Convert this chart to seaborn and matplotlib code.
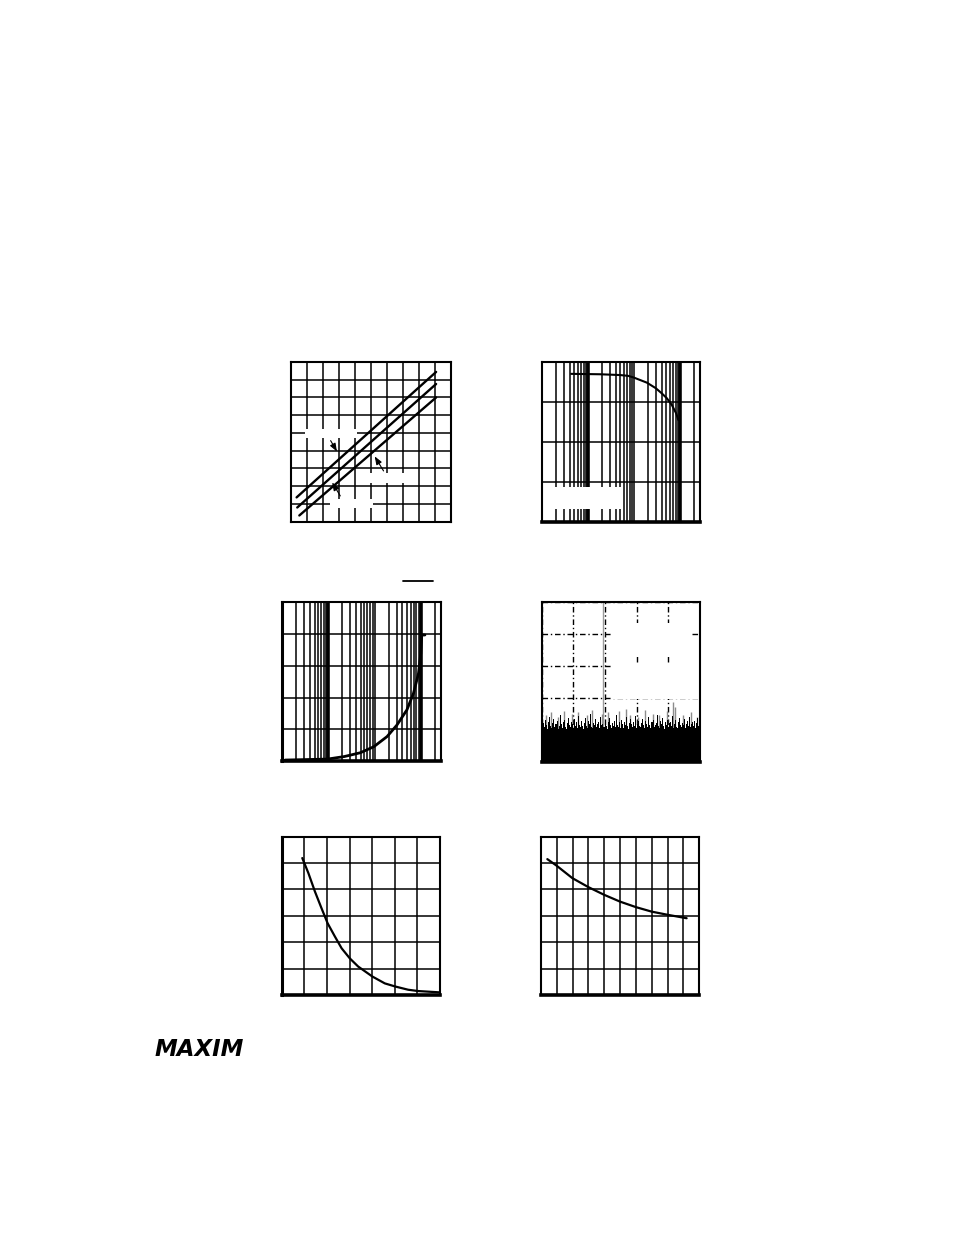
import numpy as np
import pandas as pd
import matplotlib
matplotlib.use("Agg")
import matplotlib.pyplot as plt
import seaborn as sns
from matplotlib.ticker import MultipleLocator, FixedLocator, NullFormatter
from matplotlib.patches import Rectangle
from matplotlib.lines import Line2D

# ---------------- data ----------------
# Plot 1: three parallel straight characteristics (grid units)
p1_x_a = [0.35, 9.07]
p1_y_a = [1.36, 8.44]
p1_x_b = [0.39, 9.07]
p1_y_b = [0.79, 7.76]
p1_x_c = [0.52, 9.07]
p1_y_c = [0.34, 7.00]

# Plot 2: response vs log frequency
p2_x = [4.3, 18, 50, 74, 97, 189, 296, 400, 513, 660, 818, 917]
p2_y = [3.71, 3.70, 3.68, 3.66, 3.62, 3.49, 3.35, 3.22, 3.10, 2.93, 2.72, 2.55]

# Plot 3: rising curve vs log x
p3_x = [1.15, 9.5, 22, 49, 96, 186, 303, 500, 694, 892, 1000, 1050, 1230]
p3_y = [0.03, 0.06, 0.14, 0.26, 0.45, 0.77, 1.13, 1.61, 2.13, 2.76, 3.39, 3.97, 3.97]

# log grid: decades and sub-multiples
log_decades = [1, 10, 100, 1000]
log_subs = [1, 2, 3, 4, 5, 6, 7, 8, 9]
log_thick = [10, 1000]

# Plot 4: noise spectrum (grid units)
noise_h = [1.12,1.05,1.20,1.08,1.31,1.15,1.02,1.25,1.40,1.11,1.07,1.22,1.35,1.09,1.18,1.28,1.04,1.13,1.45,1.17,
           1.06,1.24,1.32,1.10,1.03,1.21,1.38,1.14,1.08,1.26,1.19,1.05,1.34,1.12,1.23,1.07,1.42,1.16,1.09,1.29,
           1.11,1.04,1.20,1.36,1.13,1.06,1.27,1.18,1.50,1.10,1.05,1.22,1.15,1.33,1.08,1.19,1.25,1.07,1.41,1.14,
           1.17,1.09,1.30,1.12,1.03,1.24,1.37,1.16,1.06,1.21,1.13,1.28,1.08,1.46,1.15,1.10,1.23,1.05,1.32,1.18,
           1.07,1.26,1.14,1.39,1.11,1.04,1.20,1.35,1.17,1.09,1.25,1.12,1.43,1.06,1.19,1.29,1.13,1.08,1.22,1.34,
           1.15,1.05,1.27,1.18,1.10,1.40,1.14,1.07,1.24,1.31,1.09,1.16,1.21,1.48,1.12,1.06,1.28,1.17,1.36,1.11,
           1.04,1.23,1.15,1.32,1.08,1.20,1.26,1.13,1.44,1.07,1.18,1.30,1.10,1.05,1.25,1.37,1.16,1.09,1.22,1.14,
           1.33,1.06,1.19,1.27,1.12,1.41,1.08,1.17,1.24,1.11,1.29,1.05,1.20,1.36,1.13,1.08]
noise_floor = 0.95
gray_x = [0.15, 0.3, 0.52, 0.7, 0.95, 1.15, 1.42, 1.6, 1.9, 2.1, 2.45, 2.65, 2.8, 3.05, 3.25, 3.5,
          3.72, 3.95, 4.15, 4.2, 4.45, 4.7, 4.9]
gray_h = [1.45, 1.55, 1.40, 1.60, 1.50, 1.55, 1.45, 1.62, 1.50, 1.55, 1.58, 1.65, 1.45, 1.40, 1.62, 1.50,
          1.45, 1.58, 1.88, 1.72, 1.48, 1.55, 1.40]
tone_x = 1.95

# Plot 5: decaying curve
p5_x = [0.91, 1.18, 1.47, 1.76, 2.03, 2.35, 2.65, 3.01, 3.38, 4.01, 4.56, 5.03, 5.59, 6.03, 6.99]
p5_y = [5.19, 4.62, 3.92, 3.29, 2.72, 2.22, 1.77, 1.39, 1.08, 0.70, 0.44, 0.32, 0.20, 0.15, 0.10]

# Plot 6: gently decaying curve
p6_x = [0.40, 0.99, 1.98, 2.99, 3.98, 4.99, 6.00, 6.99, 8.00, 9.20]
p6_y = [5.15, 4.90, 4.43, 4.09, 3.80, 3.54, 3.33, 3.16, 3.04, 2.91]

# ---------------- figure ----------------
sns.set_theme(style="white")
plt.rcParams['font.family'] = ['DejaVu Sans']
W, H = 954, 1235
fig = plt.figure(figsize=(W / 100, H / 100), dpi=100)
fig.patch.set_facecolor('white')


def make_ax(l, r, t, b):
    ax = fig.add_axes([l / W, 1 - b / H, (r - l) / W, (b - t) / H])
    ax.set_facecolor('white')
    ax.tick_params(length=0, labelbottom=False, labelleft=False, which='both')
    for s in ax.spines.values():
        s.set_color('black')
        s.set_linewidth(1.5)
    return ax


def lin_grid(ax, nx, ny):
    ax.set_xlim(0, nx)
    ax.set_ylim(0, ny)
    ax.xaxis.set_major_locator(MultipleLocator(1))
    ax.yaxis.set_major_locator(MultipleLocator(1))
    ax.grid(True, color='black', lw=1.1)
    ax.set_axisbelow(True)


def log_grid(ax, ny):
    ax.set_xscale('log')
    ax.set_xlim(1, 2700)
    ax.set_ylim(0, ny)
    vals = [d * s for d in log_decades for s in log_subs]
    ax.xaxis.set_major_locator(FixedLocator(vals))
    ax.xaxis.set_minor_locator(FixedLocator([]))
    ax.xaxis.set_major_formatter(NullFormatter())
    ax.yaxis.set_major_locator(MultipleLocator(1))
    ax.grid(True, which='major', color='black', lw=1.1)
    for v in log_thick:
        ax.axvline(v, color='black', lw=2.6, zorder=0.9)
    ax.set_axisbelow(True)


# ---- Plot 1 ----
ax1 = make_ax(291, 451, 362, 521.5)
lin_grid(ax1, 10, 9)
for (xa, ya) in [(p1_x_a, p1_y_a), (p1_x_b, p1_y_b), (p1_x_c, p1_y_c)]:
    sns.lineplot(x=xa, y=ya, ax=ax1, color='black', lw=1.7, estimator=None, sort=False)
for (x0, y0, w, h) in [(0.875, 4.71, 3.25, 0.51), (4.44, 2.17, 2.62, 0.57), (2.44, 0.76, 2.69, 0.51)]:
    ax1.add_patch(Rectangle((x0, y0), w, h, facecolor='white', edgecolor='none', zorder=1.5))
for (tail, head) in [((2.39, 4.70), (2.96, 3.81)), ((5.875, 2.72), (5.14, 3.81)), ((3.17, 1.31), (2.48, 2.34))]:
    ax1.annotate('', xy=head, xytext=tail,
                 arrowprops=dict(arrowstyle='-|>,head_length=0.4,head_width=0.15', color='black', lw=0.8),
                 zorder=3)

# ---- Plot 2 ----
ax2 = make_ax(542, 700, 362.3, 521.7)
log_grid(ax2, 4)
ax2.spines['bottom'].set_linewidth(2.6)
ax2.add_patch(Rectangle((0.0, 0.078), 0.50, 0.142, transform=ax2.transAxes,
                        facecolor='white', edgecolor='none', zorder=1.5))
sns.lineplot(x=p2_x, y=p2_y, ax=ax2, color='black', lw=1.5, estimator=None, sort=False)

# ---- Plot 3 ----
ax3 = make_ax(282.3, 440.7, 602.3, 761)
log_grid(ax3, 5)
ax3.spines['bottom'].set_linewidth(2.6)
ax3.spines['left'].set_linewidth(2.2)
sns.lineplot(x=p3_x, y=p3_y, ax=ax3, color='black', lw=2.0, estimator=None, sort=False)
fig.add_artist(Line2D([403.3 / W, 432.7 / W], [1 - 581 / H, 1 - 581 / H], color='black', lw=1.3))

# ---- Plot 4 ----
ax4 = make_ax(541.7, 700, 602.3, 761.7)
ax4.set_xlim(0, 5)
ax4.set_ylim(0, 5)
ax4.xaxis.set_major_locator(MultipleLocator(1))
ax4.yaxis.set_major_locator(MultipleLocator(1))
ax4.grid(True, color='black', lw=1.0, linestyle=(0, (4, 2, 1, 2)))
ax4.set_axisbelow(True)
ax4.spines['bottom'].set_linewidth(2.6)
ax4.add_patch(Rectangle((2.25, 3.29), 2.48, 1.06, facecolor='white', edgecolor='none', zorder=1.5))
ax4.add_patch(Rectangle((2.25, 1.97), 2.73, 1.12, facecolor='white', edgecolor='none', zorder=1.5))
ax4.axvline(tone_x, color='#9a9a9a', lw=1.0, zorder=2)
ax4.vlines(gray_x, 0, gray_h, color='#8c8c8c', lw=1.0, zorder=2.2)
nx = np.linspace(0.0, 5.0, len(noise_h))
ax4.fill_between(nx, 0, noise_h, step='mid', color='black', lw=0, zorder=2.5)
ax4.fill_between([0, 5], 0, noise_floor, color='black', lw=0, zorder=2.5)

# ---- Plot 5 ----
ax5 = make_ax(281.7, 440, 836.7, 995)
lin_grid(ax5, 7, 6)
ax5.spines['bottom'].set_linewidth(2.6)
ax5.spines['left'].set_linewidth(2.2)
sns.lineplot(x=p5_x, y=p5_y, ax=ax5, color='black', lw=1.6, estimator=None, sort=False)

# ---- Plot 6 ----
ax6 = make_ax(541, 699.3, 836.7, 995)
lin_grid(ax6, 10, 6)
ax6.spines['bottom'].set_linewidth(2.6)
sns.lineplot(x=p6_x, y=p6_y, ax=ax6, color='black', lw=1.6, estimator=None, sort=False)

# ---- logo ----
fig.text(155 / W, 1 - 1056 / H, 'MAXIM', fontsize=16.5, fontweight='heavy', fontstyle='italic',
         color='black', ha='left', va='baseline')

fig.savefig('out.png', dpi=100, facecolor='white')
